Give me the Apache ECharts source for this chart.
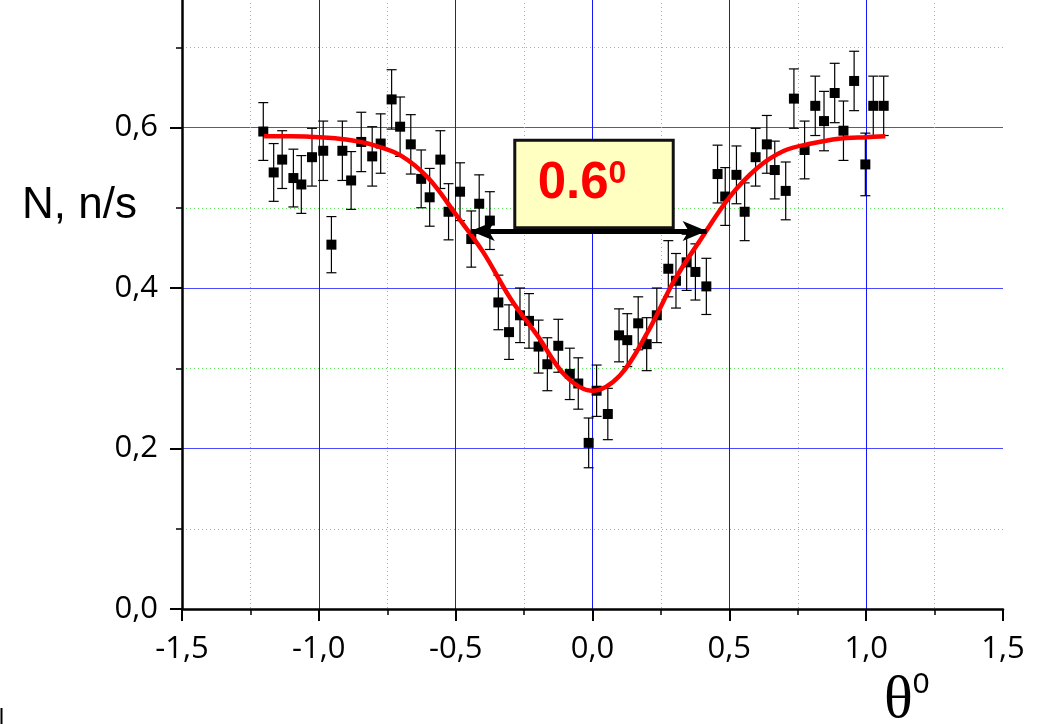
<!DOCTYPE html>
<html>
<head>
<meta charset="utf-8">
<script src="https://cdn.jsdelivr.net/npm/echarts@6/dist/echarts.min.js"></script>
<style>
  html, body { margin: 0; padding: 0; background: #fff; }
  #chart { width: 1037px; height: 724px; }
</style>
</head>
<body>
<div id="chart"></div>
<script>
// measured count rate vs angle, with error bars and fitted dip

const xs = [-1.203, -1.165, -1.134, -1.093, -1.064, -1.025, -0.984, -0.954, -0.914, -0.882,
  -0.845, -0.805, -0.774, -0.734, -0.703, -0.664, -0.626, -0.595, -0.556, -0.526,
  -0.484, -0.443, -0.414, -0.375, -0.344, -0.305, -0.265, -0.232, -0.197, -0.165,
  -0.125, -0.083, -0.052, -0.014, 0.015, 0.056, 0.097, 0.127, 0.167, 0.198,
  0.235, 0.277, 0.305, 0.344, 0.376, 0.416, 0.457, 0.485, 0.526, 0.556,
  0.596, 0.637, 0.666, 0.706, 0.736, 0.775, 0.814, 0.846, 0.885, 0.917,
  0.956, 0.997, 1.026, 1.064];
const ys = [0.595, 0.544, 0.560, 0.537, 0.529, 0.563, 0.571, 0.454, 0.571, 0.534,
  0.582, 0.564, 0.580, 0.635, 0.601, 0.579, 0.536, 0.513, 0.560, 0.495,
  0.520, 0.461, 0.505, 0.484, 0.382, 0.345, 0.366, 0.359, 0.327, 0.305,
  0.328, 0.293, 0.281, 0.207, 0.272, 0.243, 0.341, 0.335, 0.356, 0.330,
  0.366, 0.424, 0.409, 0.432, 0.420, 0.402, 0.542, 0.514, 0.541, 0.495,
  0.563, 0.579, 0.547, 0.521, 0.636, 0.572, 0.627, 0.608, 0.643, 0.596,
  0.658, 0.554, 0.627, 0.627];
const errs = [0.036, 0.036, 0.036, 0.036, 0.036, 0.036, 0.037, 0.035, 0.037, 0.036,
  0.037, 0.037, 0.037, 0.037, 0.037, 0.037, 0.036, 0.036, 0.036, 0.035,
  0.036, 0.035, 0.036, 0.036, 0.034, 0.034, 0.034, 0.034, 0.033, 0.033,
  0.033, 0.032, 0.032, 0.031, 0.032, 0.032, 0.033, 0.033, 0.033, 0.033,
  0.034, 0.035, 0.034, 0.035, 0.035, 0.035, 0.036, 0.036, 0.036, 0.036,
  0.036, 0.036, 0.036, 0.036, 0.037, 0.036, 0.037, 0.037, 0.037, 0.037,
  0.037, 0.039, 0.037, 0.037];

// fitted curve
const fitX = [-1.20, -1.10, -1.00, -0.90, -0.80, -0.70, -0.60, -0.50, -0.40, -0.30,
  -0.20, -0.10, 0.00, 0.10, 0.20, 0.30, 0.40, 0.50, 0.60, 0.70,
  0.80, 0.90, 1.00, 1.07];
const fitY = [0.589, 0.589, 0.588, 0.585, 0.578, 0.565, 0.537, 0.492, 0.445, 0.387,
  0.340, 0.291, 0.272, 0.291, 0.344, 0.410, 0.463, 0.513, 0.549, 0.571,
  0.580, 0.586, 0.588, 0.589];

// width annotation (data coords): arrow tips and label box corners
const arrowTips = [[-0.445, 0.471], [0.417, 0.471]];
const boxCorners = [[-0.284, 0.584], [0.295, 0.475]];
const widthText = '0.6';
const widthUnit = '0';

const tickFmt = v => v.toFixed(1).replace('.', ',');
const labelFont = "'Open Sans', 'Liberation Sans', sans-serif";

const chart = echarts.init(document.getElementById('chart'));

chart.setOption({
  animation: false,
  backgroundColor: '#fff',
  // 0.8 sits above the page so the visible axis ends near 0.75
  grid: { left: 182, right: 34, top: -33, bottom: 115, outerBoundsMode: 'none', containLabel: false },
  xAxis: {
    type: 'value', min: -1.5, max: 1.5, interval: 0.5,
    axisLine: { onZero: false, lineStyle: { color: '#000', width: 2.5 } },
    axisTick: { length: 12, lineStyle: { color: '#000', width: 2 } },
    minorTick: { show: true, splitNumber: 2, length: 6, lineStyle: { color: '#000', width: 1.5 } },
    splitLine: { show: true, showMaxLine: false, lineStyle: { color: '#1414ff', width: 1 } },
    minorSplitLine: { show: true, lineStyle: { color: '#5fe05f', width: 1, type: [1, 3] } },
    axisLabel: { formatter: tickFmt, fontFamily: labelFont, fontSize: 31, color: '#000', margin: 25 }
  },
  yAxis: {
    type: 'value', min: 0, max: 0.8, interval: 0.2,
    axisLine: { show: true, onZero: false, lineStyle: { color: '#000', width: 2.5 } },
    axisTick: { show: true, length: 12, lineStyle: { color: '#000', width: 2 } },
    minorTick: { show: true, splitNumber: 2, length: 6, lineStyle: { color: '#000', width: 1.5 } },
    splitLine: { show: true, showMinLine: false, lineStyle: { color: '#4a4aff', width: 1 } },
    minorSplitLine: { show: true, lineStyle: { color: '#5fe05f', width: 1, type: [1, 3] } },
    axisLabel: { formatter: tickFmt, fontFamily: labelFont, fontSize: 31, color: '#000', margin: 24 }
  },
  series: [
    {
      type: 'custom',
      silent: true,
      z: 2,
      data: xs.map((x, i) => [x, ys[i], errs[i]]),
      encode: { x: 0, y: 1 },
      renderItem(params, api) {
        const x = api.value(0), y = api.value(1), e = api.value(2);
        const top = api.coord([x, y + e]);
        const bot = api.coord([x, y - e]);
        const cap = 5;
        const st = { stroke: '#000', lineWidth: 1.2 };
        return {
          type: 'group',
          children: [
            { type: 'line', shape: { x1: top[0], y1: top[1], x2: bot[0], y2: bot[1] }, style: st },
            { type: 'line', shape: { x1: top[0] - cap, y1: top[1], x2: top[0] + cap, y2: top[1] }, style: st },
            { type: 'line', shape: { x1: bot[0] - cap, y1: bot[1], x2: bot[0] + cap, y2: bot[1] }, style: st }
          ]
        };
      }
    },
    {
      type: 'scatter',
      z: 3,
      symbol: 'rect',
      symbolSize: 10,
      itemStyle: { color: '#000', opacity: 1 },
      data: xs.map((x, i) => [x, ys[i]])
    },
    {
      type: 'line',
      z: 4,
      smooth: 0.35,
      showSymbol: false,
      lineStyle: { color: '#ff0000', width: 4.5 },
      data: fitX.map((x, i) => [x, fitY[i]]),
      markArea: {
        silent: true,
        itemStyle: { color: '#ffffc2', borderColor: '#111', borderWidth: 3 },
        label: {
          show: true,
          position: 'inside',
          offset: [-12, 0],
          formatter: '{a|' + widthText + '}{b|' + widthUnit + '}',
          rich: {
            a: { fontFamily: "'Liberation Sans', Arial, sans-serif", fontWeight: 'bold', fontSize: 51, lineHeight: 52, color: '#ff0000' },
            b: { fontFamily: "'Liberation Sans', Arial, sans-serif", fontWeight: 'bold', fontSize: 32, lineHeight: 32, color: '#ff0000', verticalAlign: 'top' }
          }
        },
        data: [[{ coord: boxCorners[0] }, { coord: boxCorners[1] }]]
      },
      markLine: {
        silent: true,
        symbol: ['arrow', 'arrow'],
        symbolSize: [15, 24],
        label: { show: false },
        lineStyle: { color: '#000', width: 5, type: 'solid' },
        data: [[{ coord: arrowTips[0] }, { coord: arrowTips[1] }]]
      }
    }
  ],
  graphic: [
    {
      type: 'text', left: 22, top: 184, silent: true,
      style: { text: 'N, n/s', fill: '#000', font: "44px 'Liberation Sans', Arial, sans-serif" }
    },
    {
      type: 'text', left: 884, top: 670, silent: true,
      style: {
        text: '{t|θ}{s|0}',
        rich: {
          t: { fontFamily: "'Liberation Serif', 'DejaVu Serif', serif", fontSize: 60, lineHeight: 62, color: '#000' },
          s: { fontFamily: "'Liberation Sans', Arial, sans-serif", fontSize: 30, lineHeight: 30, color: '#000', verticalAlign: 'top' }
        }
      }
    },
    {
      type: 'line', silent: true,
      shape: { x1: 1.5, y1: 708, x2: 1.5, y2: 724 },
      style: { stroke: '#000', lineWidth: 2 }
    }
  ]
});
</script>
</body>
</html>
